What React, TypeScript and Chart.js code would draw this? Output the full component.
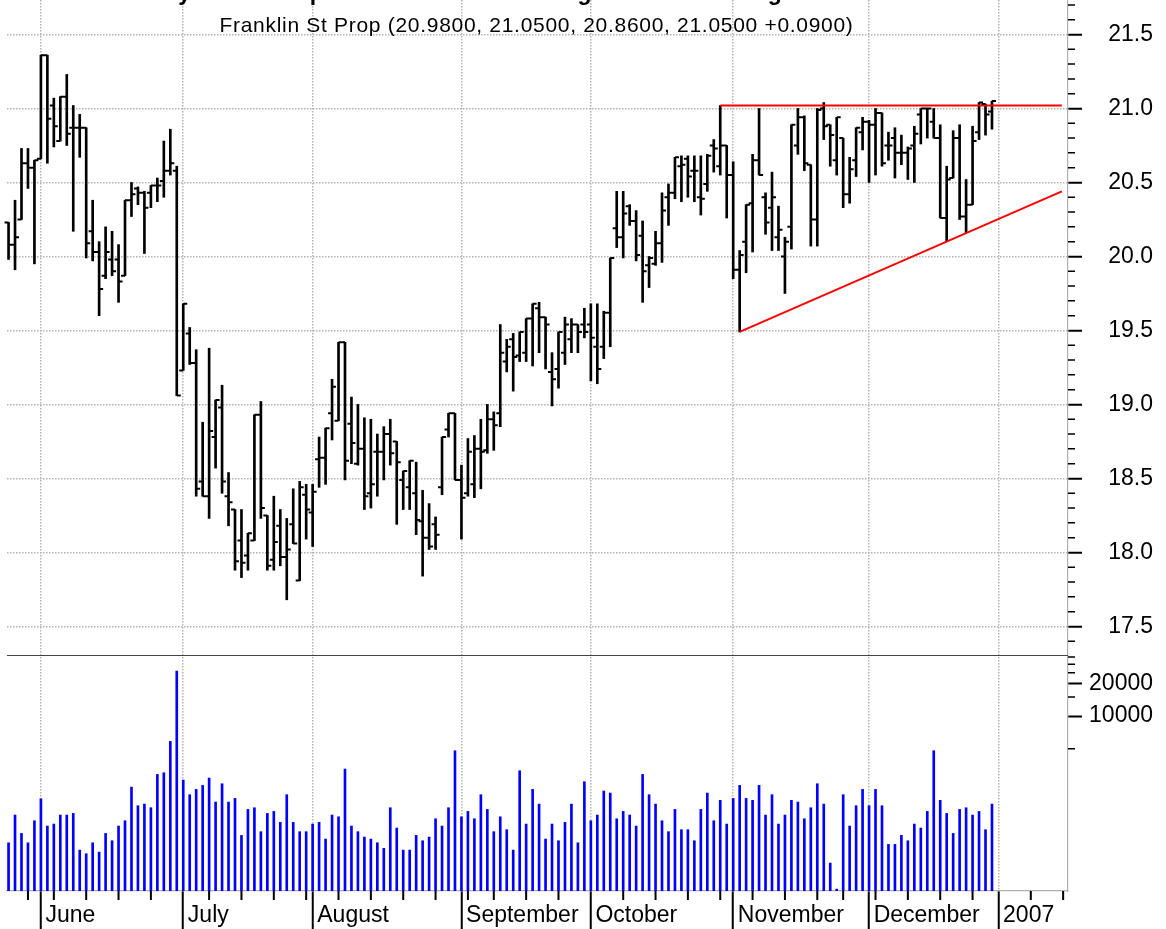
import React, { useEffect, useRef } from 'react';
import { Chart, registerables } from 'chart.js';

Chart.register(...registerables);

// ---- Daily OHLC (trading-day index 0 = 24 May 2006 ... 152 = 29 Dec 2006) ----
const opens = [
  20.23, 20.08, 20.25, 20.63, 20.60, 20.66, 21.36, 21.02, 20.78, 21.08,
  20.87, 20.87, 20.87, 20.17, 20.03, 19.87, 19.98, 19.98, 19.87, 20.38,
  20.46, 20.43, 20.43, 20.48, 20.51, 20.58, 20.58, 19.23, 19.48, 19.28,
  18.48, 18.38, 18.78, 18.98, 18.38, 18.29, 18.08, 17.98, 18.08, 18.93,
  18.25, 17.95, 18.18, 17.97, 18.19, 17.81, 18.39, 18.27, 18.63, 18.64,
  18.94, 18.89, 19.42, 18.87, 18.60, 18.70, 18.40, 18.68, 18.68, 18.80,
  18.75, 18.49, 18.44, 18.40, 18.21, 18.10, 18.19, 18.44, 18.83, 18.94,
  18.49, 18.40, 18.46, 18.70, 18.69, 18.90, 18.94, 19.29, 19.44, 19.33,
  19.35, 19.58, 19.65, 19.59, 19.22, 19.24, 19.35, 19.44, 19.54, 19.54,
  19.54, 19.39, 19.39, 19.62, 20.19, 20.13, 20.34, 20.24, 20.14, 19.94,
  19.95, 20.09, 20.40, 20.43, 20.61, 20.66, 20.58, 20.40, 20.49, 20.75,
  20.61, 20.75, 20.55, 19.91, 20.10, 20.36, 20.65, 20.40, 20.33, 20.13,
  20.00, 20.20, 20.75, 20.94, 20.62, 20.25, 21.00, 20.89, 20.65, 20.80,
  20.42, 20.65, 20.84, 20.91, 20.89, 20.97, 20.75, 20.80, 20.70, 20.70,
  20.75, 20.96, 21.00, 20.91, 20.80, 20.26, 20.53, 20.80, 20.27, 20.35,
  20.84, 21.03, 20.98,
];
const highs = [
  20.23, 20.38, 20.73, 20.73, 20.65, 21.36, 21.36, 21.07, 21.08, 21.23,
  21.02, 20.96, 20.87, 20.38, 20.10, 20.20, 20.17, 20.08, 20.38, 20.50,
  20.47, 20.44, 20.48, 20.53, 20.78, 20.86, 20.61, 19.68, 19.52, 19.37,
  18.88, 19.38, 19.03, 19.13, 18.54, 18.29, 18.29, 18.13, 18.93, 19.02,
  18.25, 18.38, 18.29, 18.23, 18.43, 18.48, 18.46, 18.46, 18.78, 18.84,
  19.17, 19.42, 19.42, 19.05, 19.00, 18.91, 18.90, 18.80, 18.85, 18.90,
  18.75, 18.55, 18.62, 18.61, 18.42, 18.33, 18.24, 18.78, 18.94, 18.94,
  18.59, 18.77, 18.79, 18.90, 19.00, 18.95, 19.54, 19.44, 19.48, 19.49,
  19.58, 19.68, 19.69, 19.59, 19.35, 19.49, 19.59, 19.58, 19.54, 19.65,
  19.68, 19.68, 19.63, 19.99, 20.44, 20.44, 20.35, 20.31, 20.24, 20.00,
  20.17, 20.43, 20.49, 20.67, 20.68, 20.68, 20.68, 20.68, 20.69, 20.79,
  21.02, 20.75, 20.64, 20.04, 20.35, 20.69, 21.00, 20.43, 20.57, 20.34,
  20.13, 20.89, 21.00, 20.95, 20.62, 21.00, 21.04, 20.89, 20.94, 20.80,
  20.67, 20.87, 20.94, 20.92, 21.00, 20.97, 20.84, 20.87, 20.82, 20.74,
  20.88, 21.00, 21.00, 21.00, 20.89, 20.61, 20.85, 20.89, 20.52, 20.88,
  21.04, 21.03, 21.05,
];
const lows = [
  19.98, 19.91, 20.25, 20.46, 19.95, 20.66, 20.63, 20.74, 20.78, 20.75,
  20.17, 20.67, 19.99, 19.97, 19.60, 19.85, 19.87, 19.69, 19.87, 20.27,
  20.35, 20.02, 20.33, 20.37, 20.40, 20.55, 19.06, 19.23, 19.27, 18.38,
  18.38, 18.23, 18.57, 18.40, 18.18, 17.88, 17.83, 17.88, 18.08, 18.23,
  17.88, 17.88, 17.91, 17.68, 18.06, 17.81, 18.09, 18.04, 18.44, 18.46,
  18.76, 18.89, 18.49, 18.60, 18.59, 18.29, 18.30, 18.38, 18.49, 18.59,
  18.19, 18.29, 18.29, 18.12, 17.84, 18.02, 18.02, 18.39, 18.78, 18.49,
  18.09, 18.38, 18.37, 18.43, 18.67, 18.69, 18.85, 19.22, 19.09, 19.29,
  19.29, 19.26, 19.35, 19.24, 18.99, 19.11, 19.27, 19.35, 19.35, 19.45,
  19.16, 19.14, 19.31, 19.39, 20.06, 19.99, 20.21, 19.97, 19.69, 19.79,
  19.94, 19.96, 20.21, 20.39, 20.37, 20.40, 20.37, 20.28, 20.44, 20.57,
  20.55, 20.26, 19.85, 19.49, 19.89, 20.03, 20.55, 20.15, 20.04, 20.04,
  19.75, 20.05, 20.69, 20.58, 20.07, 20.07, 20.79, 20.61, 20.55, 20.33,
  20.36, 20.54, 20.72, 20.50, 20.55, 20.61, 20.65, 20.53, 20.62, 20.52,
  20.50, 20.76, 20.80, 20.80, 20.26, 20.10, 20.53, 20.25, 20.16, 20.35,
  20.79, 20.82, 20.86,
];
const closes = [
  20.08, 20.13, 20.63, 20.60, 20.65, 21.36, 20.93, 20.88, 21.08, 20.83,
  20.87, 20.87, 20.09, 20.03, 19.78, 20.03, 19.90, 19.83, 20.38, 20.42,
  20.43, 20.33, 20.48, 20.48, 20.58, 20.63, 19.06, 19.68, 19.28, 18.43,
  18.38, 18.82, 19.03, 18.48, 18.34, 17.94, 17.93, 18.13, 18.93, 18.30,
  17.91, 18.07, 17.97, 18.02, 18.06, 18.44, 18.29, 18.41, 18.64, 18.84,
  19.12, 19.42, 18.62, 18.74, 18.70, 18.38, 18.46, 18.68, 18.80, 18.67,
  18.61, 18.55, 18.62, 18.22, 18.10, 18.04, 18.12, 18.78, 18.94, 18.49,
  18.37, 18.68, 18.70, 18.68, 18.90, 18.86, 19.35, 19.39, 19.32, 19.49,
  19.58, 19.68, 19.59, 19.54, 19.17, 19.49, 19.54, 19.54, 19.49, 19.49,
  19.45, 19.24, 19.62, 19.99, 20.13, 20.29, 20.24, 20.01, 19.90, 19.99,
  20.09, 20.31, 20.43, 20.67, 20.62, 20.54, 20.58, 20.39, 20.68, 20.73,
  20.75, 20.55, 19.91, 20.01, 20.35, 20.65, 20.55, 20.23, 20.40, 20.18,
  20.10, 20.89, 20.94, 20.63, 20.25, 20.99, 20.88, 20.82, 20.94, 20.42,
  20.59, 20.87, 20.91, 20.89, 20.97, 20.63, 20.75, 20.70, 20.70, 20.73,
  20.83, 21.00, 21.00, 20.80, 20.26, 20.52, 20.80, 20.27, 20.35, 20.78,
  21.04, 20.96, 21.05,
];
const volumes = [
  681, 1226, 831, 681, 1086, 1730, 971, 1013, 1226, 1226,
  1270, 583, 540, 681, 559, 831, 711, 971, 1086, 2218,
  1494, 1547, 1432, 2902, 3007, 5846, 25960, 2574, 1887, 2113,
  2300, 2686, 1615, 2381, 1615, 1745, 797, 1382, 1432, 862,
  1270, 1324, 1050, 1887, 1050, 862, 862, 1013, 1050, 737,
  1226, 1181, 3251, 971, 862, 769, 737, 681, 605, 1432,
  931, 583, 583, 797, 711, 769, 1133, 971, 1432, 4795,
  1181, 1324, 1133, 1887, 1382, 862, 1181, 899, 583, 3137,
  1013, 2113, 1547, 737, 1013, 711, 1050, 1547, 681, 2485,
  1086, 1226, 2039, 1955, 1133, 1324, 1226, 971, 2902, 1887,
  1547, 1086, 862, 1382, 899, 899, 711, 1382, 1955, 1086,
  1675, 1013, 1745, 2300, 1745, 1675, 2300, 1226, 1887, 1013,
  1226, 1675, 1615, 1133, 1432, 2381, 1547, 443, 255, 1887,
  971, 1494, 2113, 1494, 2113, 1494, 658, 658, 797, 711,
  1013, 931, 1324, 4795, 1675, 1270, 831, 1382, 1432, 1226,
  1324, 899, 1547,
];

// ---- Axis ticks / labels ----
const monthStarts = [5, 27, 47, 70, 90, 112, 133, 153];
const monthLabels = ['June', 'July', 'August', 'September', 'October', 'November', 'December', '2007'];
const weekStarts = [3, 7, 12, 17, 22, 31, 36, 41, 46, 51, 56, 61, 66, 71, 75, 80, 85, 95, 100, 105, 110,
  115, 120, 125, 129, 134, 139, 144, 149, 158, 163];
const priceMajorTicks = [17.5, 18.0, 18.5, 19.0, 19.5, 20.0, 20.5, 21.0, 21.5];
const priceMinorTicks = [17.4, 17.6, 17.7, 17.8, 17.9, 18.1, 18.2, 18.3, 18.4, 18.6, 18.7, 18.8, 18.9,
  19.1, 19.2, 19.3, 19.4, 19.6, 19.7, 19.8, 19.9, 20.1, 20.2, 20.3, 20.4, 20.6, 20.7, 20.8, 20.9,
  21.1, 21.2, 21.3, 21.4, 21.6, 21.7];
const volumeMajorTicks = [10000, 20000];
const volumeMinorTicks = [5000, 15000, 25000, 30000, 35000];

// ---- Trend lines (trading-day index, price) ----
const resistanceLine = [{ x: 110, y: 21.02 }, { x: 162.8, y: 21.02 }];
const supportLine = [{ x: 113, y: 19.49 }, { x: 162.8, y: 20.44 }];

const TITLE = 'Daily Price Setup Shows Clear Ascending Pattern Breaking Out';
const SUBTITLE = 'Franklin St Prop (20.9800, 21.0500, 20.8600, 21.0500 +0.0900)';

const FONT = '"Liberation Sans", Arial, Helvetica, sans-serif';

const decorPlugin = {
  id: 'decor',
  afterDatasetsDraw(chart: any) {
    const { ctx, scales } = chart;
    const xs = scales.x;
    const ys = scales.y;
    ctx.save();
    ctx.strokeStyle = '#000';
    ctx.lineWidth = 2;
    ctx.lineCap = 'butt';
    ctx.beginPath();
    for (let i = 0; i < opens.length; i++) {
      const px = xs.getPixelForValue(i);
      const yo = ys.getPixelForValue(opens[i]);
      const yc = ys.getPixelForValue(closes[i]);
      ctx.moveTo(px - 4, yo);
      ctx.lineTo(px, yo);
      ctx.moveTo(px, yc);
      ctx.lineTo(px + 4, yc);
    }
    ctx.stroke();
    ctx.restore();
  },
  afterDraw(chart: any) {
    const { ctx, scales, chartArea } = chart;
    const xs = scales.x;
    const ys = scales.y;
    const vs = scales.vol;
    ctx.save();
    // panel separator
    ctx.strokeStyle = '#444';
    ctx.lineWidth = 1.2;
    ctx.beginPath();
    ctx.moveTo(chartArea.left, Math.round(vs.top) + 0.5);
    ctx.lineTo(chartArea.right, Math.round(vs.top) + 0.5);
    ctx.stroke();
    // minor ticks on the right axes
    ctx.strokeStyle = '#000';
    ctx.lineWidth = 1.5;
    ctx.beginPath();
    for (const v of priceMinorTicks) {
      const py = ys.getPixelForValue(v);
      if (py < ys.top || py > ys.bottom) continue;
      ctx.moveTo(ys.left, py);
      ctx.lineTo(ys.left + 7, py);
    }
    for (const v of volumeMinorTicks) {
      const py = vs.getPixelForValue(v);
      if (py < vs.top || py > vs.bottom) continue;
      ctx.moveTo(vs.left, py);
      ctx.lineTo(vs.left + 7, py);
    }
    ctx.stroke();
    // weekly ticks on the date axis
    ctx.lineWidth = 2;
    ctx.beginPath();
    for (const w of weekStarts) {
      const px = xs.getPixelForValue(w);
      if (px > xs.right) continue;
      ctx.moveTo(px, xs.top);
      ctx.lineTo(px, xs.top + 9);
    }
    ctx.stroke();
    ctx.restore();
  },
};

export default function App() {
  const canvasRef = useRef<HTMLCanvasElement | null>(null);

  useEffect(() => {
    if (!canvasRef.current) return;
    Chart.defaults.font.family = FONT;
    Chart.defaults.color = '#000';

    const hl = opens.map((_, i) => ({ x: i, y: [lows[i], highs[i]] }));
    const vol = volumes.map((v, i) => ({ x: i, y: v }));

    const gridGray = '#b4b4b4';

    const chart = new Chart(canvasRef.current, {
      type: 'bar',
      data: {
        datasets: [
          {
            type: 'line',
            data: resistanceLine,
            yAxisID: 'y',
            borderColor: '#ff0000',
            borderWidth: 2,
            pointRadius: 0,
            order: 0,
          } as any,
          {
            type: 'line',
            data: supportLine,
            yAxisID: 'y',
            borderColor: '#ff0000',
            borderWidth: 2,
            pointRadius: 0,
            order: 0,
          } as any,
          {
            type: 'bar',
            data: hl as any,
            yAxisID: 'y',
            backgroundColor: '#000',
            borderWidth: 0,
            barThickness: 2,
            grouped: false,
            order: 1,
          } as any,
          {
            type: 'bar',
            data: vol as any,
            yAxisID: 'vol',
            backgroundColor: '#0000ff',
            borderWidth: 0,
            barThickness: 2,
            grouped: false,
            order: 1,
          } as any,
        ],
      },
      options: {
        animation: false,
        responsive: true,
        maintainAspectRatio: false,
        events: [],
        layout: { padding: { left: 7, top: 0, right: 13, bottom: 0 } },
        plugins: { legend: { display: false }, tooltip: { enabled: false }, title: { display: false } },
        scales: {
          x: {
            type: 'linear',
            position: 'bottom',
            min: -0.24,
            max: 163.75,
            offset: false,
            afterBuildTicks: (s: any) => {
              s.ticks = monthStarts.map((v) => ({ value: v }));
            },
            afterFit: (s: any) => {
              s.height = 38;
              s.paddingLeft = 0;
              s.paddingRight = 0;
            },
            ticks: {
              autoSkip: false,
              maxRotation: 0,
              minRotation: 0,
              align: 'start',
              padding: -27,
              font: { size: 23, family: FONT },
              color: '#000',
              callback: (value: any) => {
                const k = monthStarts.indexOf(Number(value));
                return k >= 0 ? '\u2009' + monthLabels[k] : '';
              },
            },
            grid: {
              offset: false,
              color: gridGray,
              lineWidth: 1.5,
              drawTicks: true,
              tickLength: 38,
              tickColor: '#000',
              tickWidth: 2,
              tickBorderDash: [],
            },
            border: { display: true, color: '#b0b0b0', width: 1.2, dash: [1.5, 1.5] },
          } as any,
          y: {
            type: 'linear',
            position: 'right',
            stack: 'right',
            stackWeight: 655,
            min: 17.307,
            max: 21.733,
            afterBuildTicks: (s: any) => {
              s.ticks = priceMajorTicks.map((v) => ({ value: v }));
            },
            afterFit: (s: any) => {
              s.width = 85;
              s.paddingTop = 0;
              s.paddingBottom = 0;
            },
            ticks: {
              crossAlign: 'far',
              padding: 4,
              font: { size: 23, family: FONT },
              color: '#000',
              callback: (value: any) => Number(value).toFixed(1),
            },
            grid: {
              color: gridGray,
              lineWidth: 1.5,
              drawTicks: true,
              tickLength: 14,
              tickColor: '#000',
              tickWidth: 2,
              tickBorderDash: [],
            },
            border: { display: true, color: '#b0b0b0', width: 1.2, dash: [1.5, 1.5] },
          } as any,
          vol: {
            type: 'logarithmic',
            position: 'right',
            stack: 'right',
            stackWeight: 236,
            min: 245,
            max: 36500,
            afterBuildTicks: (s: any) => {
              s.ticks = volumeMajorTicks.map((v) => ({ value: v }));
            },
            afterFit: (s: any) => {
              s.width = 85;
              s.paddingTop = 0;
              s.paddingBottom = 0;
            },
            ticks: {
              crossAlign: 'far',
              padding: 4,
              font: { size: 23, family: FONT },
              color: '#000',
              callback: (value: any) => String(value),
            },
            grid: {
              drawOnChartArea: false,
              drawTicks: true,
              tickLength: 14,
              tickColor: '#000',
              tickWidth: 2,
              tickBorderDash: [],
            },
            border: { display: true, color: '#b0b0b0', width: 1.2 },
          } as any,
        },
      } as any,
      plugins: [decorPlugin],
    });
    return () => chart.destroy();
  }, []);

  return (
    <div style={{ position: 'fixed', left: 0, top: 0, width: 1166, height: 929, background: '#fff', overflow: 'hidden' }}>
      <canvas ref={canvasRef} />
      <div
        style={{
          position: 'absolute', left: 136, top: -19,
          font: `bold 23px ${FONT}`, lineHeight: '23px', color: '#000', whiteSpace: 'nowrap',
        }}
      >
        {TITLE}
      </div>
      <div
        style={{
          position: 'absolute', left: 0, top: 14, width: 1073, textAlign: 'center',
          font: `21px ${FONT}`, lineHeight: '21px', letterSpacing: '0.7px', color: '#000', whiteSpace: 'nowrap',
        }}
      >
        {SUBTITLE}
      </div>
    </div>
  );
}
